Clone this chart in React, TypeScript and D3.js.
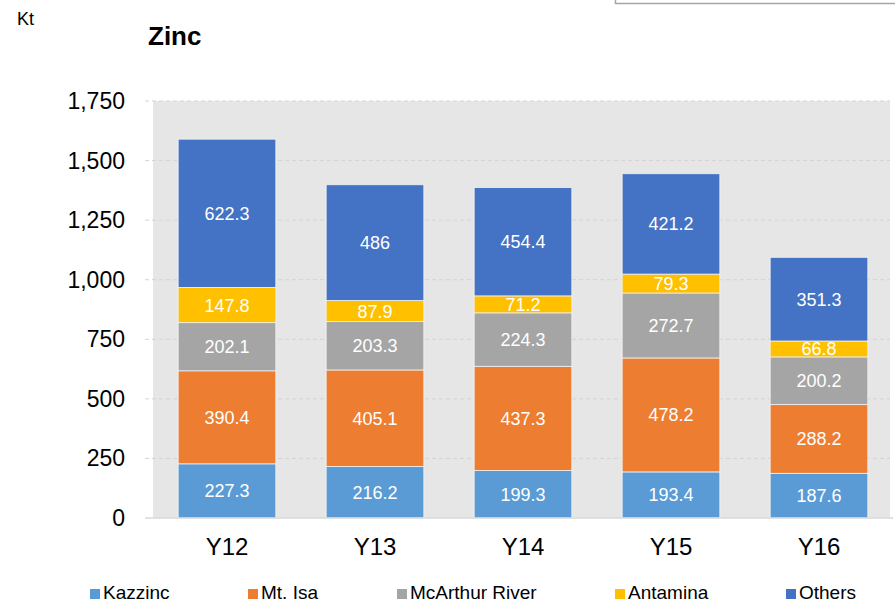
import React, { useEffect, useRef } from 'react';
import * as d3 from 'd3';

const years = ['Y12', 'Y13', 'Y14', 'Y15', 'Y16'];
const kazzinc = [227.3, 216.2, 199.3, 193.4, 187.6];
const mtIsa = [390.4, 405.1, 437.3, 478.2, 288.2];
const mcArthur = [202.1, 203.3, 224.3, 272.7, 200.2];
const antamina = [147.8, 87.9, 71.2, 79.3, 66.8];
const others = [622.3, 486, 454.4, 421.2, 351.3];
const seriesNames = ['Kazzinc', 'Mt. Isa', 'McArthur River', 'Antamina', 'Others'];
const seriesColors = ['#5b9bd5', '#ed7d31', '#a5a5a5', '#ffc000', '#4472c4'];
const yTicks = [0, 250, 500, 750, 1000, 1250, 1500, 1750];
const legendX = [90, 248, 397, 615, 786];

const W = 895;
const H = 603;

export default function App() {
  const svgRef = useRef<SVGSVGElement>(null);

  useEffect(() => {
    const svg = d3.select(svgRef.current);
    svg.selectAll('*').remove();
    const font = 'Arial, "Liberation Sans", sans-serif';

    const x = d3.scaleBand().domain(years).range([153, 893]).paddingInner(0.34).paddingOuter(0.17);
    const y = d3.scaleLinear().domain([0, 1750]).range([518, 101]);

    // Plot background
    svg.append('rect')
      .attr('x', 153).attr('y', y(1750))
      .attr('width', 737).attr('height', y(0) - y(1750))
      .attr('fill', '#e7e6e6');

    // Gridlines
    svg.selectAll('.grid')
      .data(yTicks.slice(1))
      .enter()
      .append('line')
      .attr('x1', 145).attr('x2', 890)
      .attr('y1', d => y(d)).attr('y2', d => y(d))
      .attr('stroke', '#d4d4d4')
      .attr('stroke-dasharray', '4,3')
      .attr('stroke-width', 1);

    // Tick labels
    svg.selectAll('.ytick')
      .data(yTicks)
      .enter()
      .append('text')
      .attr('x', 125)
      .attr('y', d => y(d) + 8)
      .attr('text-anchor', 'end')
      .attr('font-family', font)
      .attr('font-size', 23)
      .attr('fill', '#000')
      .text(d => d3.format(',')(d));

    // Stacked data
    const rows = years.map((yr, i) => ({
      year: yr,
      'Kazzinc': kazzinc[i],
      'Mt. Isa': mtIsa[i],
      'McArthur River': mcArthur[i],
      'Antamina': antamina[i],
      'Others': others[i],
    }));
    const stack = d3.stack<any>().keys(seriesNames);
    const layers = stack(rows);

    layers.forEach((layer, si) => {
      const g = svg.append('g');
      g.selectAll('rect')
        .data(layer)
        .enter()
        .append('rect')
        .attr('x', d => x(d.data.year)!)
        .attr('width', x.bandwidth())
        .attr('y', d => y(d[1]))
        .attr('height', d => y(d[0]) - y(d[1]))
        .attr('fill', seriesColors[si])
        .attr('stroke', '#f2f2f2')
        .attr('stroke-width', 0.8);
      g.selectAll('text')
        .data(layer)
        .enter()
        .append('text')
        .attr('x', d => x(d.data.year)! + x.bandwidth() / 2)
        .attr('y', d => (y(d[0]) + y(d[1])) / 2 + 6.5)
        .attr('text-anchor', 'middle')
        .attr('font-family', font)
        .attr('font-size', 18)
        .attr('fill', '#fff')
        .text(d => String(+(d[1] - d[0]).toFixed(1)));
    });

    // Baseline
    svg.append('line')
      .attr('x1', 145).attr('x2', 893)
      .attr('y1', y(0)).attr('y2', y(0))
      .attr('stroke', '#d9d9d9')
      .attr('stroke-width', 1.5);

    // Category labels
    svg.selectAll('.xlab')
      .data(years)
      .enter()
      .append('text')
      .attr('x', d => x(d)! + x.bandwidth() / 2)
      .attr('y', 555)
      .attr('text-anchor', 'middle')
      .attr('font-family', font)
      .attr('font-size', 24)
      .attr('fill', '#000')
      .text(d => d);

    // Legend
    const lg = svg.selectAll('.legend')
      .data(seriesNames)
      .enter()
      .append('g');
    lg.append('rect')
      .attr('x', (d, i) => legendX[i])
      .attr('y', 589)
      .attr('width', 10).attr('height', 10)
      .attr('fill', (d, i) => seriesColors[i]);
    lg.append('text')
      .attr('x', (d, i) => legendX[i] + 13)
      .attr('y', 599)
      .attr('font-family', font)
      .attr('font-size', 19)
      .attr('fill', '#000')
      .text(d => d);

    // Title and unit
    svg.append('text')
      .attr('x', 148).attr('y', 45)
      .attr('font-family', font)
      .attr('font-size', 26)
      .attr('font-weight', 'bold')
      .text('Zinc');
    svg.append('text')
      .attr('x', 17).attr('y', 25)
      .attr('font-family', font)
      .attr('font-size', 18)
      .text('Kt');

    // Partial box at top right
    svg.append('rect')
      .attr('x', 615.5).attr('y', -10)
      .attr('width', 300).attr('height', 13.5)
      .attr('fill', '#fff')
      .attr('stroke', '#a6a6a6')
      .attr('stroke-width', 1.5);
  }, []);

  return (
    <svg
      ref={svgRef}
      width={W}
      height={H}
      style={{ position: 'absolute', left: 0, top: 0, background: '#fff' }}
    />
  );
}
